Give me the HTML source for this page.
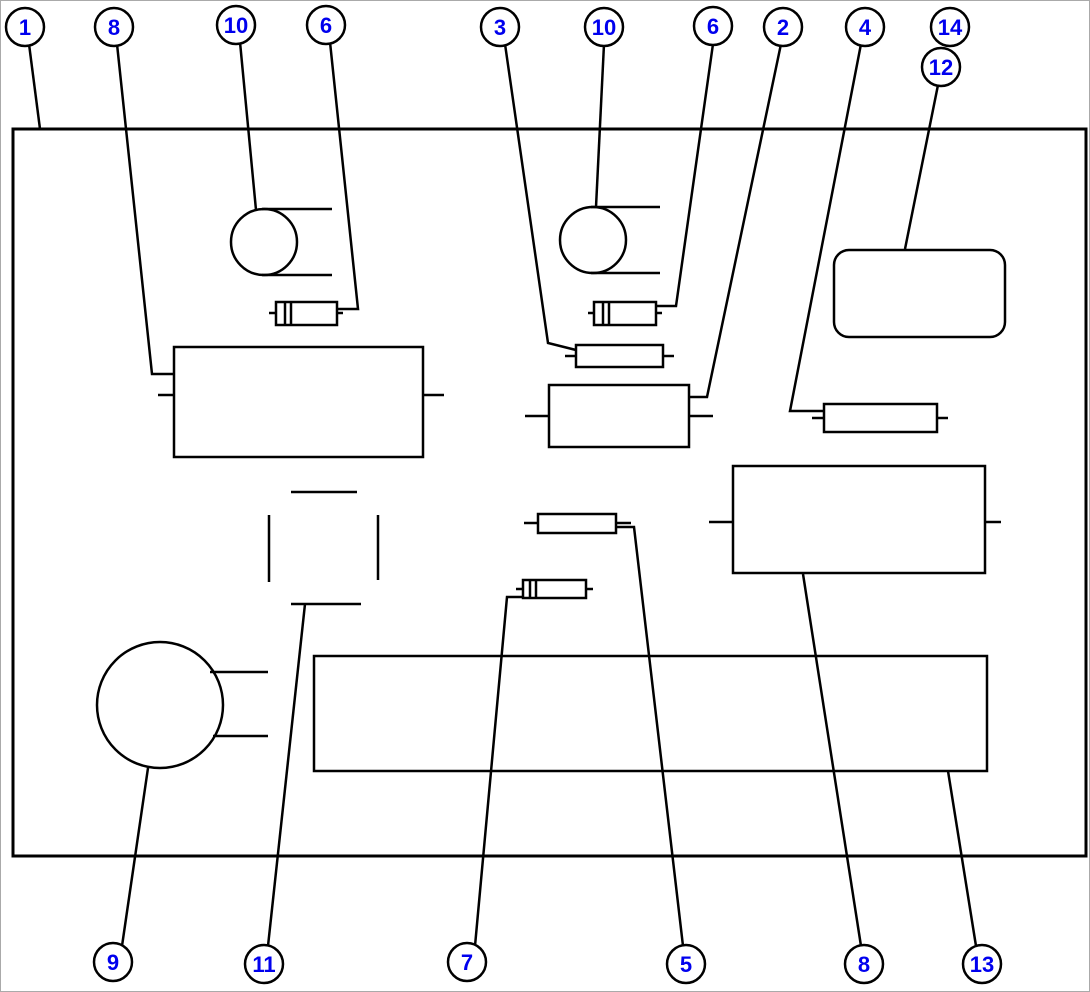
<!DOCTYPE html>
<html><head><meta charset="utf-8"><style>
html,body{margin:0;padding:0;background:#fff}
svg{display:block}
text{font-family:"Liberation Sans",sans-serif;font-weight:bold;font-size:22px;fill:#0000ee;text-anchor:middle}
</style></head><body>
<svg width="1090" height="992" viewBox="0 0 1090 992">
<rect x="0.5" y="0.5" width="1089" height="991" fill="#fff" stroke="#aaa" stroke-width="1"/>
<g fill="none" stroke="#000" stroke-width="2.5">
<rect x="13" y="129" width="1073" height="727" stroke-width="3"/>
<polyline points="29,44 40,129"/>
<polyline points="117,44 152,374 174,374"/>
<polyline points="240,42 256,210"/>
<polyline points="330,42 358,309 338,309"/>
<polyline points="505,44 548,343 576,350"/>
<polyline points="604,44 596,207"/>
<polyline points="713,44 676,306 657,306"/>
<polyline points="781,44 707,397 689,397"/>
<polyline points="861,44 790,411 824,411"/>
<polyline points="938,85 905,249"/>
<polyline points="148,768 122,946"/>
<polyline points="305,604 268,946"/>
<polyline points="523,597 507,597 475,946"/>
<polyline points="617,527 634,527 683,946"/>
<polyline points="803,574 861,946"/>
<polyline points="948,771 976,946"/>
<circle cx="264" cy="242" r="33"/>
<line x1="262" y1="209" x2="332" y2="209"/><line x1="262" y1="275" x2="332" y2="275"/>
<circle cx="593" cy="240" r="33"/>
<line x1="591" y1="207" x2="660" y2="207"/><line x1="591" y1="273" x2="660" y2="273"/>
<rect x="276" y="302" width="61" height="23"/>
<line x1="285" y1="302" x2="285" y2="325"/><line x1="291" y1="302" x2="291" y2="325"/>
<line x1="269" y1="313" x2="276" y2="313"/><line x1="337" y1="313" x2="343" y2="313"/>
<rect x="594" y="302" width="62" height="23"/>
<line x1="603" y1="302" x2="603" y2="325"/><line x1="609" y1="302" x2="609" y2="325"/>
<line x1="588" y1="313" x2="594" y2="313"/><line x1="656" y1="313" x2="662" y2="313"/>
<rect x="576" y="345" width="87" height="22"/>
<line x1="565" y1="356" x2="576" y2="356"/><line x1="663" y1="356" x2="674" y2="356"/>
<rect x="174" y="347" width="249" height="110"/>
<line x1="158" y1="395" x2="174" y2="395"/><line x1="423" y1="395" x2="444" y2="395"/>
<rect x="549" y="385" width="140" height="62"/>
<line x1="525" y1="416" x2="549" y2="416"/><line x1="689" y1="416" x2="713" y2="416"/>
<rect x="824" y="404" width="113" height="28"/>
<line x1="812" y1="418" x2="824" y2="418"/><line x1="937" y1="418" x2="948" y2="418"/>
<rect x="834" y="250" width="171" height="87" rx="15"/>
<rect x="733" y="466" width="252" height="107"/>
<line x1="709" y1="522" x2="733" y2="522"/><line x1="985" y1="522" x2="1001" y2="522"/>
<line x1="291" y1="492" x2="357" y2="492"/><line x1="291" y1="604" x2="361" y2="604"/>
<line x1="269" y1="515" x2="269" y2="582"/><line x1="378" y1="515" x2="378" y2="580"/>
<rect x="538" y="514" width="78" height="19"/>
<line x1="524" y1="523" x2="538" y2="523"/><line x1="616" y1="523" x2="631" y2="523"/>
<rect x="523" y="580" width="63" height="18"/>
<line x1="530" y1="580" x2="530" y2="598"/><line x1="536" y1="580" x2="536" y2="598"/>
<line x1="516" y1="589" x2="523" y2="589"/><line x1="586" y1="589" x2="593" y2="589"/>
<circle cx="160" cy="705" r="63"/>
<line x1="210" y1="672" x2="268" y2="672"/><line x1="213" y1="736" x2="268" y2="736"/>
<rect x="314" y="656" width="673" height="115"/>
</g>
<g fill="#fff" stroke="#000" stroke-width="2.5">
<circle cx="25" cy="27" r="19"/><circle cx="114" cy="27" r="19"/>
<circle cx="236" cy="25" r="19"/><circle cx="326" cy="25" r="19"/>
<circle cx="500" cy="27" r="19"/><circle cx="604" cy="27" r="19"/>
<circle cx="713" cy="26" r="19"/><circle cx="783" cy="27" r="19"/>
<circle cx="865" cy="27" r="19"/><circle cx="950" cy="27" r="19"/>
<circle cx="941" cy="67" r="19"/>
<circle cx="113" cy="962" r="19"/><circle cx="264" cy="964" r="19"/>
<circle cx="467" cy="962" r="19"/><circle cx="686" cy="964" r="19"/>
<circle cx="864" cy="964" r="19"/><circle cx="982" cy="964" r="19"/>
</g>
<text x="25" y="35">1</text><text x="114" y="35">8</text>
<text x="236" y="33">10</text><text x="326" y="33">6</text>
<text x="500" y="35">3</text><text x="604" y="35">10</text>
<text x="713" y="34">6</text><text x="783" y="35">2</text>
<text x="865" y="35">4</text><text x="950" y="35">14</text>
<text x="941" y="75">12</text>
<text x="113" y="970">9</text><text x="264" y="972">11</text>
<text x="467" y="970">7</text><text x="686" y="972">5</text>
<text x="864" y="972">8</text><text x="982" y="972">13</text>
</svg>
</body></html>
